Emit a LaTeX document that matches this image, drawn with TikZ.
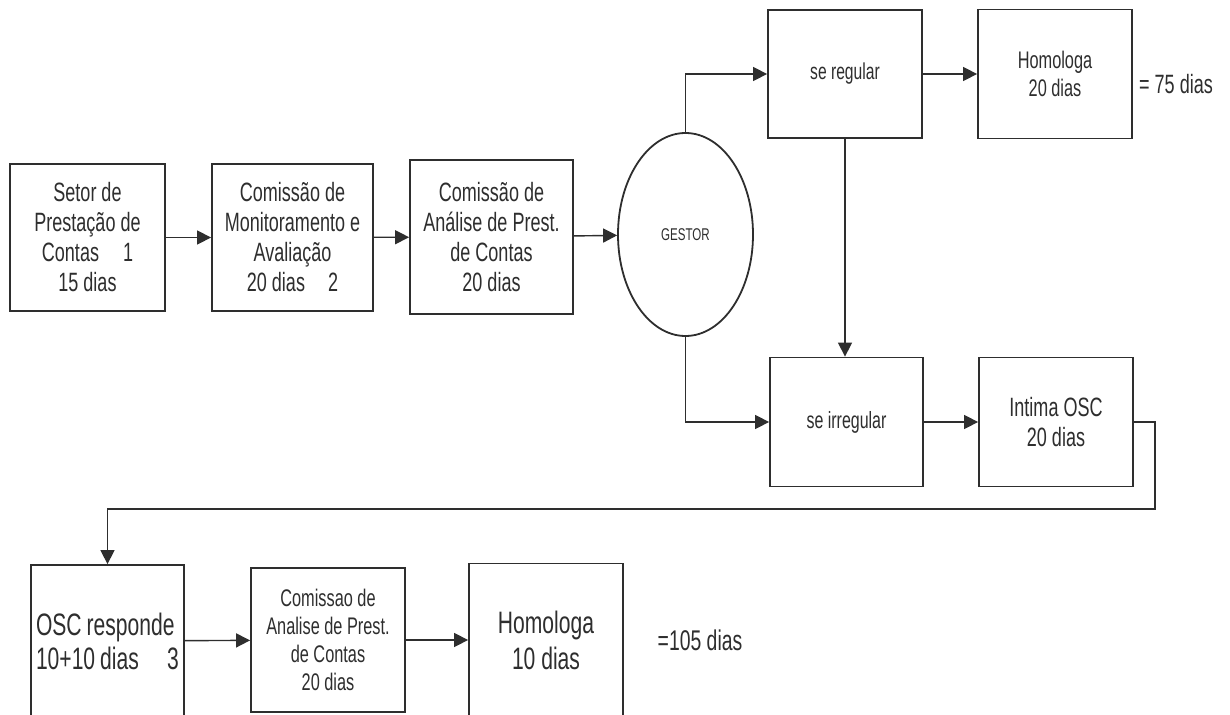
\documentclass[tikz,border=0pt]{standalone}
\usepackage{fontspec}
\setmainfont{Liberation Sans}
\newfontfamily\narrowfont{Liberation Sans}[FakeStretch=0.68]
\usetikzlibrary{arrows.meta,shapes.geometric}
\newcommand{\myfs}[2]{\fontsize{#1pt}{#2pt}\selectfont}
\definecolor{ink}{HTML}{2E2E2E}
\tikzset{
  box/.style={draw=ink, line width=1.8pt, rectangle, inner sep=2pt, align=center,
              text=ink},
  conn/.style={draw=ink, line width=1.4pt, -{Triangle[length=14pt,width=14pt]}},
  plain/.style={text=ink, inner sep=0pt}
}
\begin{document}
\begin{tikzpicture}[x=1pt,y=-1pt]
\clip (0,0) rectangle (1230,714);
\fill[white] (0,0) rectangle (1230,714);

\node[box, minimum width=155pt, minimum height=147pt, font=\narrowfont\myfs{26.5}{30}] (B1) at (87.5,237.5)
  {Setor de\\Prestação de\\Contas\hspace{24pt}1\\15 dias};
\node[box, minimum width=161pt, minimum height=147pt, font=\narrowfont\myfs{26.5}{30}] (B2) at (292.5,237.5)
  {Comissão de\\Monitoramento e\\Avaliação\\20 dias\hspace{23pt}2};
\node[box, minimum width=163pt, minimum height=154pt, font=\narrowfont\myfs{26.5}{30}] (B3) at (491.5,237)
  {Comissão de\\Análise de Prest.\\de Contas\\20 dias};
\node[draw=ink, line width=1.8pt, ellipse, inner sep=0pt, minimum width=135pt,
      minimum height=203pt, text=ink, font=\narrowfont\myfs{17}{18}] (E) at (685.5,234.5)
  {GESTOR};

\node[box, minimum width=154pt, minimum height=128pt, font=\narrowfont\myfs{23}{26}] (SR) at (845,74)
  {se regular};
\node[box, minimum width=154pt, minimum height=129pt, font=\narrowfont\myfs{24}{28}] (H1) at (1055,74)
  {Homologa\\20 dias};
\node[plain, font=\narrowfont\myfs{26.5}{28}] (T75) at (1176,84) {= 75 dias};

\node[box, minimum width=153pt, minimum height=129pt, font=\narrowfont\myfs{23.5}{26}] (SI) at (846.5,422)
  {se irregular};
\node[box, minimum width=154pt, minimum height=129pt, font=\narrowfont\myfs{26.5}{30}] (IO) at (1056,422)
  {Intima OSC\\20 dias};

\node[box, minimum width=153pt, minimum height=152pt, align=left, text width=143pt,
      inner xsep=5pt, font=\narrowfont\myfs{31}{34}] (OSC) at (107.5,641)
  {OSC\hspace{5pt}responde\\10+10\hspace{5pt}dias\hfill 3};
\node[box, minimum width=154pt, minimum height=144pt, font=\narrowfont\myfs{24}{28}] (C2) at (328,640)
  {Comissao de\\Analise de Prest.\\de Contas\\20 dias};
\node[box, minimum width=154pt, minimum height=153pt, font=\narrowfont\myfs{31}{36}] (H2) at (546,640)
  {Homologa\\10 dias};
\node[plain, font=\narrowfont\myfs{28.5}{30}] (T105) at (700,640) {=105 dias};

\coordinate (turn) at (1155,509);

\draw[conn] (B1) -- (B2);
\draw[conn] (B2) -- (B3);
\draw[conn] (B3) -- (E);
\draw[conn] (E.north) |- (SR.west);
\draw[conn] (SR) -- (H1);
\draw[conn] (SR.south) -- (SR.south |- SI.north);
\draw[conn] (E.south) |- (SI.west);
\draw[conn] (SI) -- (IO);
\draw[conn] (IO.east) -| (turn) -| (OSC.north);
\draw[conn] (OSC) -- (C2);
\draw[conn] (C2) -- (H2);
\end{tikzpicture}
\end{document}
